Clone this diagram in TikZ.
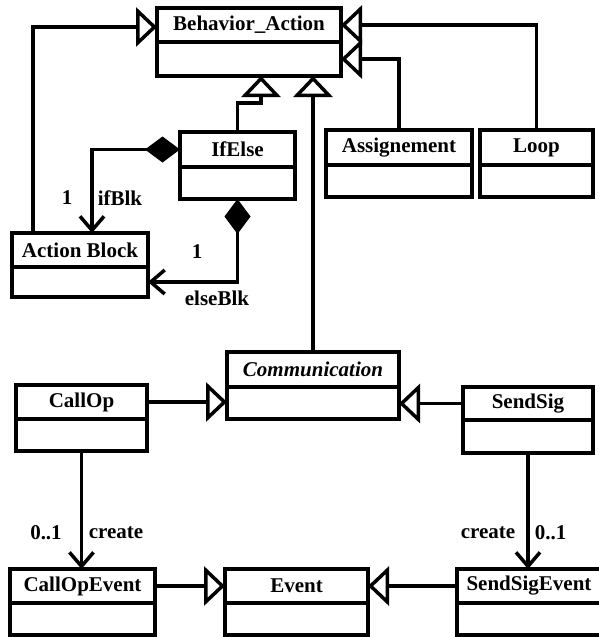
\documentclass[tikz,border=0pt]{standalone}
\usepackage{fontspec}
\setmainfont{Liberation Serif}
\usetikzlibrary{arrows.meta,positioning}

\begin{document}
\begin{tikzpicture}[
    x=1pt, y=-1pt,
    line width=3.5pt,
    head/.style={draw, outer sep=0pt, inner sep=0pt, font=\fontsize{21}{24}\selectfont\bfseries},
    body/.style={draw, outer sep=0pt, inner sep=0pt},
    lbl/.style={inner sep=0pt, font=\fontsize{21}{24}\selectfont\bfseries},
    gen/.style={-{Triangle[open, length=21pt, width=39pt]}},
    comp/.style={{Diamond[length=35pt, width=26pt]}-{Straight Barb[length=14pt, width=24pt]}},
    assoc/.style={-{Straight Barb[length=14pt, width=24pt]}}
]
\useasboundingbox (0,0) rectangle (598,637);

% Behavior classes
\node[head, minimum width=184pt, minimum height=34pt] (behav) at (249,25) {Behavior\_Action};
\node[body, minimum width=184pt, minimum height=34pt, below=0pt of behav] (behav_body) {};
\node[head, minimum width=115pt, minimum height=35pt] (ifelse) at (237.5,149.5) {IfElse};
\node[body, minimum width=115pt, minimum height=32pt, below=0pt of ifelse] (ifelse_body) {};
\node[head, minimum width=146pt, minimum height=35pt] (assign) at (399,147.5) {Assignement};
\node[body, minimum width=146pt, minimum height=32pt, below=0pt of assign] (assign_body) {};
\node[head, minimum width=113pt, minimum height=35pt] (loop) at (536.5,147.5) {Loop};
\node[body, minimum width=113pt, minimum height=32pt, below=0pt of loop] (loop_body) {};
\node[head, minimum width=136pt, minimum height=34pt] (actblk) at (80,250) {Action Block};
\node[body, minimum width=136pt, minimum height=30pt, below=0pt of actblk] (actblk_body) {};

% Communication classes
\node[head, minimum width=172pt, minimum height=35pt] (comm) at (313,369.5) {\itshape Communication};
\node[body, minimum width=172pt, minimum height=32pt, below=0pt of comm] (comm_body) {};
\node[head, minimum width=131pt, minimum height=34pt] (callop) at (81.5,402) {CallOp};
\node[body, minimum width=131pt, minimum height=32pt, below=0pt of callop] (callop_body) {};
\node[head, minimum width=130pt, minimum height=33pt] (sendsig) at (528,403.5) {SendSig};
\node[body, minimum width=130pt, minimum height=33pt, below=0pt of sendsig] (sendsig_body) {};

% Event classes
\node[head, minimum width=145pt, minimum height=34pt] (callev) at (82.5,586) {CallOpEvent};
\node[body, minimum width=145pt, minimum height=32pt, below=0pt of callev] (callev_body) {};
\node[head, minimum width=143pt, minimum height=34pt] (event) at (296.5,586) {Event};
\node[body, minimum width=143pt, minimum height=32pt, below=0pt of event] (event_body) {};
\node[head, minimum width=144pt, minimum height=34pt] (sendev) at (529,586) {SendSigEvent};
\node[body, minimum width=144pt, minimum height=32pt, below=0pt of sendev] (sendev_body) {};

% Generalizations
\draw[gen] ([xshift=21pt]actblk.north west) |- ([yshift=-2pt]behav.west);
\draw[gen] (ifelse.north) -- ++(0,-29) -| ([xshift=12pt]behav_body.south);
\draw[gen] (comm.north) -- (comm.north |- behav_body.south);
\draw[gen] (assign.north) |- (behav_body.east);
\draw[gen] (loop.north) |- (behav.east);
\draw[gen] (callop.east) -- (callop.east -| comm_body.west);
\draw[gen] (sendsig.west) -- (sendsig.west -| comm_body.east);
\draw[gen] (callev.east) -- (event.west);
\draw[gen] (sendev.west) -- (event.east);

% Compositions
\draw[comp] (ifelse.west) -| ([xshift=12pt]actblk.north);
\draw[comp] (ifelse_body.south) |- (actblk_body.east);
\node[lbl] (ifblk_mult) at (67,198) {1};
\node[lbl, anchor=west] (ifblk_role) at (96,198) {ifBlk};
\node[lbl] (elseblk_mult) at (197,252) {1};
\node[lbl] (elseblk_role) at (217,298) {elseBlk};

% Associations
\draw[assoc] (callop_body.south) -- (callop_body.south |- callev.north);
\draw[assoc] (sendsig_body.south) -- (sendsig_body.south |- sendev.north);
\node[lbl] (callev_mult) at (46,533) {0..1};
\node[lbl, anchor=west] (callev_role) at (87,533) {create};
\node[lbl] (sendev_role) at (488,533) {create};
\node[lbl, anchor=west] (sendev_mult) at (533,533) {0..1};

\end{tikzpicture}
\end{document}
